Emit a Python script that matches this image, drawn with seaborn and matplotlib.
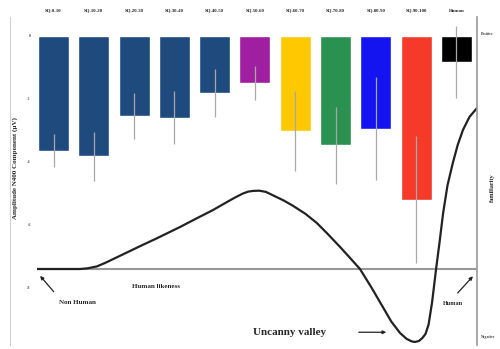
import numpy as np
import pandas as pd
import matplotlib
matplotlib.use("Agg")
import matplotlib.pyplot as plt
import seaborn as sns

# N400 amplitude per human-likeness group (bars), with symmetric error
groups = ["SQ.0-10", "SQ.10-20", "SQ.20-30", "SQ.30-40", "SQ.40-50",
          "SQ.50-60", "SQ.60-70", "SQ.70-80", "SQ.80-90", "SQ.90-100", "Human"]
amplitude = [-3.65, -3.84, -2.54, -2.60, -1.81, -1.49, -3.02, -3.49, -2.95, -5.21, -0.83]
amp_err = [0.54, 0.79, 0.73, 0.83, 0.76, 0.54, 1.27, 1.21, 1.65, 2.03, 1.14]
bar_colors = ["#1f4a7e", "#1f4a7e", "#1f4a7e", "#1f4a7e", "#1f4a7e",
              "#a01fa0", "#ffc800", "#2b9150", "#1414f0", "#f53a2a", "#000000"]
amp_ticks = [0, -2, -4, -6, -8]

# uncanny valley curve: human likeness (%) vs familiarity
likeness = [0, 9.8, 11.5, 13.6, 15.5, 17.3, 19.2, 21.1, 24, 27, 32.5, 36, 40.0, 43,
            45, 46.8, 48, 49.1, 50.5, 52, 53.0, 55.9, 58, 61, 63.6, 66, 68.9, 71,
            73.4, 76, 78.6, 80.5, 82.5, 84, 85.2, 85.9, 86.8, 87.6, 88.3, 89, 89.8,
            90.7, 91.5, 92.3, 93.3, 94.5, 95.6, 96.8, 98.3, 100]
familiarity = [0, 0, 0.3, 1.1, 2.6, 4.2, 5.9, 7.6, 10.2, 12.8, 17.8, 21.2, 25.0, 28.2,
               30.3, 32.0, 32.8, 33.1, 33.2, 32.7, 31.8, 29.2, 27.0, 23.4, 19.5, 15.0,
               9.3, 5.0, 0, -7.8, -16.1, -22.2, -27.1, -29.6, -30.7, -30.9, -30.5,
               -29.2, -27.5, -23.5, -14, 0, 11.5, 23.7, 35.5, 44.9, 52.5, 58.9, 64.5, 68.2]

sns.set_style("white")
plt.rcParams["font.family"] = ["Liberation Serif", "DejaVu Serif"]
plt.rcParams["font.weight"] = "bold"
plt.rcParams["axes.unicode_minus"] = False

fig = plt.figure(figsize=(5, 3.49), dpi=100)
bottom, height = 4 / 349, 328 / 349

# bar axes
ax = fig.add_axes([10 / 500, bottom, 467 / 500, height])
df = pd.DataFrame({"group": groups, "amp": amplitude})
sns.barplot(data=df, x="group", y="amp", hue="group", palette=bar_colors,
            saturation=1, width=0.77, errorbar=None, legend=False, ax=ax, zorder=2)
ax.errorbar(np.arange(len(groups)), amplitude, yerr=amp_err, fmt="none",
            ecolor="#a8a8a8", elinewidth=0.9, capsize=0, zorder=3)
ax.set_xlim(-1.08, 10.51)
ax.set_ylim(-9.84, 0.6)
ax.set_yticks(amp_ticks)
ax.set_yticklabels([str(t) for t in amp_ticks])
ax.tick_params(axis="y", direction="in", length=0, pad=-15, labelsize=3, colors="#555555")
ax.xaxis.tick_top()
ax.tick_params(axis="x", length=0, pad=3, labelsize=3.5)
for lbl in ax.get_xticklabels():
    lbl.set_fontweight("bold")
ax.set_xlabel("")
ax.set_ylabel("Amplitude N400 Component (µV)", fontsize=5, fontweight="bold", labelpad=-22)
ax.yaxis.set_label_coords(0.017, 0.54)
for s in ["top", "right", "bottom"]:
    ax.spines[s].set_visible(False)
ax.spines["left"].set_color("#d0d0d0")
ax.spines["left"].set_linewidth(0.8)

# curve axes overlaid
ax2 = fig.add_axes([37 / 500, bottom, 440 / 500, height])
ax2.set_facecolor("none")
sns.lineplot(x=likeness, y=familiarity, ax=ax2, color="#222222", linewidth=1.6)
ax2.axhline(0, color="#999999", linewidth=1.5, zorder=0)
ax2.set_xlim(0, 100)
ax2.set_ylim(-32.2, 106.8)
ax2.set_xticks([])
ax2.yaxis.tick_right()
ax2.yaxis.set_label_position("right")
ax2.set_yticks([100, -28.4])
ax2.set_yticklabels(["Positive", "Negative"])
ax2.tick_params(axis="y", length=0, pad=3, labelsize=2.8, colors="#444444")
ax2.set_ylabel("familiarity", fontsize=4.5, fontweight="bold", labelpad=4)
ax2.yaxis.set_label_coords(1.03, 0.48)
for s in ["top", "left", "bottom"]:
    ax2.spines[s].set_visible(False)
ax2.spines["right"].set_color("#999999")
ax2.spines["right"].set_linewidth(1.2)

# annotations
ax2.annotate("", xy=(0.3, -2.0), xytext=(4.2, -10.5),
             arrowprops=dict(arrowstyle="-|>", color="#222222", lw=0.9, mutation_scale=5))
ax2.text(5, -14, "Non Human", fontsize=5, fontweight="bold", ha="left", va="center")
ax2.text(27, -7.5, "Human likeness", fontsize=5, fontweight="bold", ha="center", va="center")
ax2.annotate("", xy=(99.5, -2.2), xytext=(95.2, -11),
             arrowprops=dict(arrowstyle="-|>", color="#222222", lw=0.9, mutation_scale=5))
ax2.text(94.5, -14.5, "Human", fontsize=4.5, fontweight="bold", ha="center", va="center")
ax2.annotate("", xy=(80, -26.8), xytext=(72.5, -26.8),
             arrowprops=dict(arrowstyle="-|>", color="#222222", lw=0.9, mutation_scale=5))
ax2.text(49, -26.8, "Uncanny valley", fontsize=8, fontweight="bold", ha="left", va="center")

fig.savefig("out.png", dpi=100)
